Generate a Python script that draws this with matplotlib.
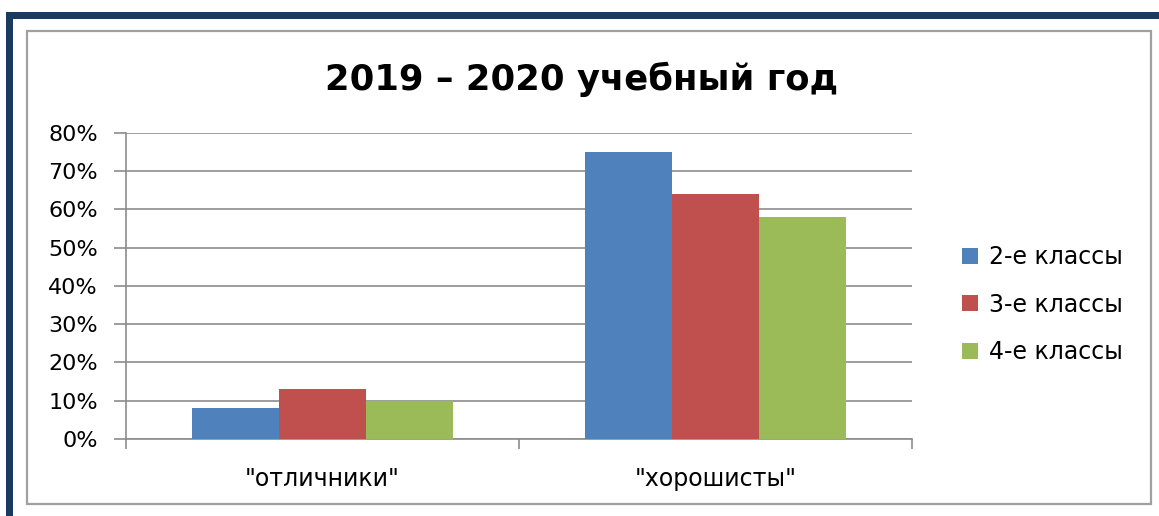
import matplotlib
matplotlib.use("Agg")
import matplotlib.pyplot as plt
from matplotlib.patches import Rectangle
import numpy as np

categories = ['"отличники"', '"хорошисты"']
series_names = ["2-е классы", "3-е классы", "4-е классы"]
values_2 = [0.08, 0.75]
values_3 = [0.13, 0.64]
values_4 = [0.10, 0.58]
colors = ["#4F81BD", "#C0504D", "#9BBB59"]
yticks = [0, 0.1, 0.2, 0.3, 0.4, 0.5, 0.6, 0.7, 0.8]
ytick_labels = ["0%", "10%", "20%", "30%", "40%", "50%", "60%", "70%", "80%"]
title = "2019 – 2020 учебный год"

W, H = 1159, 516
fig = plt.figure(figsize=(W / 100, H / 100), dpi=100)
plt.rcParams['font.family'] = ['DejaVu Sans']

# decorative borders
def px_rect(x0, y0, x1, y1, **kw):
    return Rectangle((x0 / W, 1 - y1 / H), (x1 - x0) / W, (y1 - y0) / H,
                     transform=fig.transFigure, **kw)

fig.patches.append(px_rect(6, 11.7, W + 5, 19.3, facecolor="#1B3A60", edgecolor="none"))
fig.patches.append(px_rect(6, 11.7, 13.3, H + 5, facecolor="#1B3A60", edgecolor="none"))
fig.patches.append(px_rect(26.5, 30.5, 1151, 503.5, facecolor="none", edgecolor="#A0A0A0", linewidth=1.6))

ax = fig.add_axes([126 / W, 1 - 439 / H, (912 - 126) / W, (439 - 132.7) / H])
x = np.arange(len(categories))
bw = 0.2214
grid_c = "#8C8C8C"
ax.set_axisbelow(True)
ax.yaxis.grid(True, color=grid_c, linewidth=1.2)
for i, (vals, c, name) in enumerate(zip([values_2, values_3, values_4], colors, series_names)):
    ax.bar(x + (i - 1) * bw, vals, width=bw, color=c, label=name, zorder=3)

ax.set_xlim(-0.5, 1.5)
ax.set_ylim(0, 0.8)
ax.set_yticks(yticks)
ax.set_yticklabels(ytick_labels, fontsize=16)
ax.tick_params(axis="y", direction="out", length=8.3, width=1.2, color=grid_c, pad=12)
ax.set_xticks(x)
ax.set_xticklabels(categories, fontsize=17)
ax.tick_params(axis="x", which="major", length=0, pad=20)
ax.set_xticks([-0.5, 0.5, 1.5], minor=True)
ax.tick_params(axis="x", which="minor", direction="out", length=7, width=1.2, color=grid_c)
for s in ["top", "right"]:
    ax.spines[s].set_visible(False)
for s in ["left", "bottom"]:
    ax.spines[s].set_color(grid_c)
    ax.spines[s].set_linewidth(1.2)

fig.text(582 / W, 1 - 90 / H, title, fontsize=25.5, fontweight="bold", ha="center", va="baseline")

leg = fig.legend(loc="center left", bbox_to_anchor=(961.5 / W, 1 - 304.5 / H), frameon=False,
                 fontsize=17, handlelength=0.68, handleheight=0.68, handletextpad=0.5,
                 labelspacing=1.0, borderaxespad=0, borderpad=0)

fig.savefig("out.png", dpi=100)
